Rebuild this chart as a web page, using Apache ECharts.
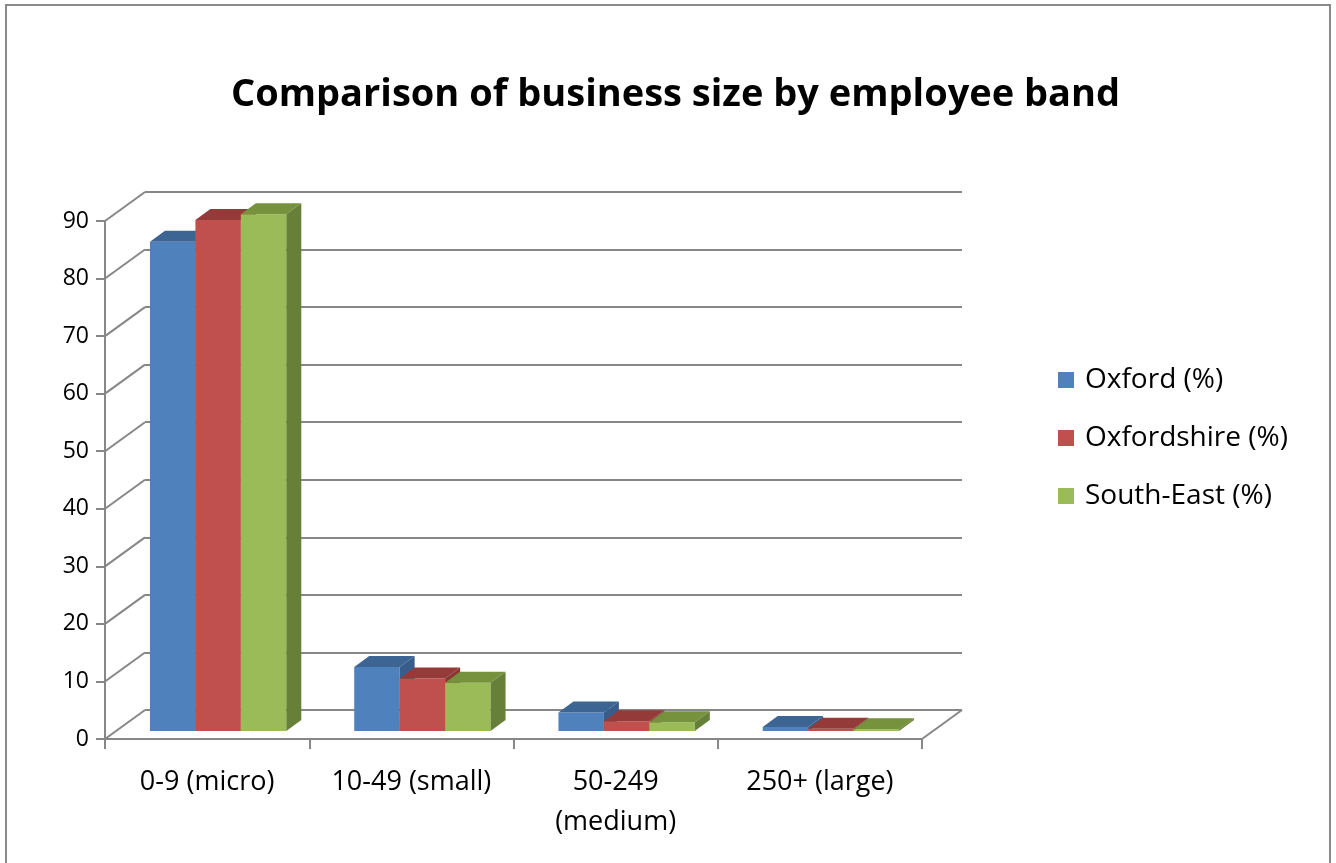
<!DOCTYPE html>
<html>
<head>
<meta charset="utf-8">
<script src="https://cdn.jsdelivr.net/npm/echarts@6/dist/echarts.min.js"></script>
<style>
  html, body { margin: 0; padding: 0; background: #ffffff; }
  #chart { width: 1336px; height: 863px; }
</style>
</head>
<body>
<div id="chart"></div>
<script>
// Employee size bands and share of businesses (%) in each area
const categories = ['0-9 (micro)', '10-49 (small)', '50-249\n(medium)', '250+ (large)'];
const oxford = [85.0, 11.1, 3.2, 0.7];
const oxfordshire = [88.8, 9.1, 1.7, 0.4];
const southEast = [89.8, 8.4, 1.5, 0.3];
const seriesNames = ['Oxford (%)', 'Oxfordshire (%)', 'South-East (%)'];
const yTicks = [0, 10, 20, 30, 40, 50, 60, 70, 80, 90];

// Face colours for the pseudo-3D columns: front, top, side
const palette = [
  { front: '#4F81BD', top: '#3D6594', side: '#385D8A' },
  { front: '#C0504D', top: '#943B39', side: '#8A3633' },
  { front: '#9BBB59', top: '#76923C', side: '#66803A' }
];

const GRID_COLOR = '#878787';
const FONT = '"Open Sans", "Noto Sans", sans-serif';

// Oblique projection offsets
const WALL_DX = 40, WALL_DY = -29;   // floor depth (front edge -> back wall)
const PLANE_DX = 11, PLANE_DY = -8;  // columns sit slightly behind the front edge
const BAR_DX = 15, BAR_DY = -11;     // depth of each column
const BAR_FRAC = 0.2225;             // column width as a share of the category band

function barRenderer(k) {
  return function (params, api) {
    const idx = api.value(0);
    const val = api.value(1);
    const base = api.coord([idx, 0]);
    const top = api.coord([idx, val]);
    const band = api.size([1, 0])[0];
    const w = band * BAR_FRAC;
    const x0 = base[0] - 1.5 * w + k * w + PLANE_DX;
    const yb = base[1] + PLANE_DY;
    const yt = top[1] + PLANE_DY;
    const c = palette[k];
    return {
      type: 'group',
      children: [
        { type: 'rect', shape: { x: x0, y: yt, width: w, height: yb - yt },
          style: { fill: c.front } },
        { type: 'polygon', shape: { points: [[x0, yt], [x0 + w, yt], [x0 + w + BAR_DX, yt + BAR_DY], [x0 + BAR_DX, yt + BAR_DY]] },
          style: { fill: c.top } },
        { type: 'polygon', shape: { points: [[x0 + w, yt], [x0 + w + BAR_DX, yt + BAR_DY], [x0 + w + BAR_DX, yb + BAR_DY], [x0 + w, yb]] },
          style: { fill: c.side } }
      ]
    };
  };
}

// Side-wall lines joining the front value axis to the back-wall gridlines,
// plus the right-hand edge of the floor.
function wallRenderer(params, api) {
  const v = api.value(0);
  const band = api.size([1, 0])[0];
  const p = api.coord([0, v]);
  const left = p[0] - band / 2;
  const children = [
    { type: 'line', shape: { x1: left, y1: p[1], x2: left + WALL_DX, y2: p[1] + WALL_DY },
      style: { stroke: GRID_COLOR, lineWidth: 2 } }
  ];
  if (v === 0) {
    const q = api.coord([categories.length - 1, 0]);
    const right = q[0] + band / 2;
    children.push({ type: 'line', shape: { x1: right, y1: q[1], x2: right + WALL_DX, y2: q[1] + WALL_DY },
      style: { stroke: GRID_COLOR, lineWidth: 2 } });
  }
  return { type: 'group', children: children };
}

const chart = echarts.init(document.getElementById('chart'), null, { renderer: 'canvas' });

const data = [oxford, oxfordshire, southEast];

chart.setOption({
  backgroundColor: '#ffffff',
  animation: false,
  color: palette.map(p => p.front),
  title: {
    text: 'Comparison of business size by employee band',
    left: 226,
    top: 71,
    textStyle: { fontFamily: FONT, fontWeight: 'bold', fontSize: 38, color: '#000000' }
  },
  legend: {
    orient: 'vertical',
    left: 1058,
    top: 365,
    padding: 0,
    itemWidth: 16,
    itemHeight: 16,
    itemGap: 28,
    icon: 'rect',
    data: seriesNames,
    textStyle: { fontFamily: FONT, fontSize: 28, lineHeight: 30, color: '#000000', padding: [0, 0, 0, 6] }
  },
  graphic: [
    { type: 'rect', shape: { x: 6, y: 5, width: 1324, height: 900 },
      style: { fill: 'none', stroke: '#8a8a8a', lineWidth: 2 }, z: 100 }
  ],
  grid: [
    // front plane: carries the visible axes
    { left: 105, right: 414, top: 221, bottom: 124 },
    // back wall: carries the gridlines
    { left: 105 + WALL_DX, right: 414 - WALL_DX, top: 221 + WALL_DY, bottom: 124 - WALL_DY }
  ],
  xAxis: [
    {
      gridIndex: 0,
      type: 'category',
      data: categories,
      axisLine: { lineStyle: { color: GRID_COLOR, width: 2 } },
      axisTick: { show: true, length: 10, lineStyle: { color: GRID_COLOR, width: 2 } },
      axisLabel: { interval: 0, margin: 23, fontFamily: FONT, fontSize: 27, color: '#000000', lineHeight: 40 },
      splitLine: { show: false }
    },
    { gridIndex: 1, type: 'value', min: 0, max: 1, show: false }
  ],
  yAxis: [
    {
      gridIndex: 0,
      type: 'value',
      min: yTicks[0],
      max: yTicks[yTicks.length - 1],
      interval: 10,
      axisLine: { show: true, lineStyle: { color: GRID_COLOR, width: 2 } },
      axisTick: { show: true, length: 9, lineStyle: { color: GRID_COLOR, width: 2 } },
      axisLabel: { margin: 16, fontFamily: FONT, fontSize: 23, color: '#000000' },
      splitLine: { show: false }
    },
    {
      gridIndex: 1,
      type: 'value',
      min: yTicks[0],
      max: yTicks[yTicks.length - 1],
      interval: 10,
      axisLine: { show: false },
      axisTick: { show: false },
      axisLabel: { show: false },
      splitLine: { show: true, lineStyle: { color: GRID_COLOR, width: 2 } }
    }
  ],
  series: [
    {
      type: 'custom',
      name: 'wall',
      xAxisIndex: 0,
      yAxisIndex: 0,
      silent: true,
      z: 1,
      renderItem: wallRenderer,
      encode: { y: 0 },
      data: yTicks.map(v => [v])
    }
  ].concat(seriesNames.map((name, k) => ({
    type: 'custom',
    name: name,
    xAxisIndex: 0,
    yAxisIndex: 0,
    z: 2 + k,
    itemStyle: { color: palette[k].front },
    renderItem: barRenderer(k),
    encode: { x: 0, y: 1 },
    data: data[k].map((v, i) => [i, v])
  })))
});
</script>
</body>
</html>
